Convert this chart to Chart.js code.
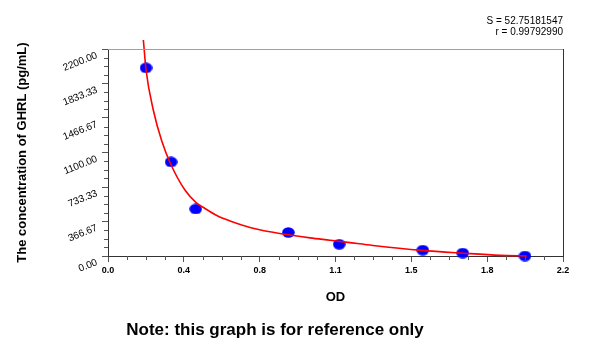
<!DOCTYPE html>
<html>
<head>
<meta charset="utf-8">
<script src="https://cdn.jsdelivr.net/npm/chart.js@4"></script>
<style>
  html, body { margin: 0; padding: 0; background: #fff; }
</style>
</head>
<body>
<canvas id="chart" width="600" height="350"></canvas>
<script>
// standards: measured OD vs known concentration
const odValues = [0.184, 0.305, 0.424, 0.872, 1.118, 1.522, 1.715, 2.016];
const concValues = [2000, 1000, 500, 250, 125, 62.5, 31.25, 0];

// fitted standard curve
const fitOd = [0.171, 0.184, 0.219, 0.260, 0.303, 0.372, 0.426, 0.469, 0.526, 0.590,
  0.687, 0.783, 0.880, 0.977, 1.073, 1.160, 1.281, 1.518, 1.717, 1.895, 2.025];
const fitConc = [2296, 1977, 1552, 1222, 978, 701, 568, 505, 430, 372,
  303, 257, 223, 193, 168, 145, 112, 60, 30, 7, 0];

const xTickValues = [0, 0.36667, 0.73333, 1.1, 1.46667, 1.83333, 2.2];
const xTickLabels = ["0.0", "0.4", "0.8", "1.1", "1.5", "1.8", "2.2"];
const yTickValues = [0, 366.67, 733.33, 1100, 1466.67, 1833.33, 2200];
const yTickLabels = ["0.00", "366.67", "733.33", "1100.00", "1466.67", "1833.33", "2200.00"];

const fitText = ["S = 52.75181547", "r = 0.99792990"];
const noteText = "Note: this graph is for reference only";

const FONT = "'Liberation Sans', Arial, sans-serif";

// blue oval marker
function ovalMarker() {
  const c = document.createElement("canvas");
  c.width = 13;
  c.height = 11;
  const g = c.getContext("2d");
  g.fillStyle = "#0000ff";
  g.beginPath();
  g.ellipse(6.5, 5.5, 6.3, 5.2, 0, 0, Math.PI * 2);
  g.fill();
  return c;
}

const frame = {
  id: "frame",
  afterDraw(chart) {
    const { ctx, chartArea: a, scales } = chart;
    ctx.save();
    // top and right edges of the plot box
    ctx.lineWidth = 1;
    ctx.strokeStyle = "#a0a0a0";
    ctx.beginPath();
    ctx.moveTo(a.left, a.top + 0.5);
    ctx.lineTo(a.right, a.top + 0.5);
    ctx.stroke();
    ctx.strokeStyle = "#333";
    ctx.beginPath();
    ctx.moveTo(a.right + 0.5, a.top);
    ctx.lineTo(a.right + 0.5, a.bottom);
    ctx.stroke();

    // minor ticks, four per major step
    ctx.strokeStyle = "#555";
    ctx.beginPath();
    for (let i = 0; i < xTickValues.length - 1; i++) {
      const step = (xTickValues[i + 1] - xTickValues[i]) / 4;
      for (let k = 1; k < 4; k++) {
        const px = Math.round(scales.x.getPixelForValue(xTickValues[i] + step * k)) + 0.5;
        ctx.moveTo(px, a.bottom);
        ctx.lineTo(px, a.bottom + 4);
      }
    }
    for (let i = 0; i < yTickValues.length - 1; i++) {
      const step = (yTickValues[i + 1] - yTickValues[i]) / 4;
      for (let k = 1; k < 4; k++) {
        const py = Math.round(scales.y.getPixelForValue(yTickValues[i] + step * k)) + 0.5;
        ctx.moveTo(a.left, py);
        ctx.lineTo(a.left - 4, py);
      }
    }
    ctx.stroke();

    // fit statistics and footnote
    ctx.fillStyle = "#000";
    ctx.font = "10px " + FONT;
    ctx.textAlign = "right";
    ctx.textBaseline = "middle";
    ctx.fillText(fitText[0], a.right, 21);
    ctx.fillText(fitText[1], a.right, 32);
    ctx.font = "bold 17px " + FONT;
    ctx.textAlign = "center";
    ctx.fillText(noteText, 275, 330);
    ctx.restore();
  }
};

new Chart(document.getElementById("chart"), {
  type: "scatter",
  data: {
    datasets: [
      {
        type: "line",
        data: fitOd.map((x, i) => ({ x, y: fitConc[i] })),
        borderColor: "#ff0000",
        borderWidth: 1.6,
        pointRadius: 0,
        cubicInterpolationMode: "monotone",
        fill: false,
        clip: false
      },
      {
        data: odValues.map((x, i) => ({ x, y: concValues[i] })),
        pointStyle: ovalMarker(),
        pointRadius: 6,
        clip: false
      }
    ]
  },
  options: {
    responsive: false,
    animation: false,
    events: [],
    layout: { padding: { left: 0, top: 49, right: 37, bottom: 0 } },
    plugins: { legend: { display: false }, tooltip: { enabled: false } },
    scales: {
      x: {
        type: "linear",
        min: 0,
        max: 2.2,
        afterBuildTicks: (s) => { s.ticks = xTickValues.map((v) => ({ value: v })); },
        afterFit: (s) => { s.height = 94; },
        ticks: {
          callback: (v, i) => xTickLabels[i],
          autoSkip: false,
          maxRotation: 0,
          padding: 3,
          color: "#000",
          font: { family: FONT, size: 9, weight: "bold" }
        },
        grid: { drawOnChartArea: false, tickLength: 6, color: "#555" },
        border: { color: "#333" },
        title: {
          display: true,
          text: "OD",
          color: "#000",
          font: { family: FONT, size: 13, weight: "bold" },
          padding: { top: 0, bottom: 45 }
        }
      },
      y: {
        type: "linear",
        min: 0,
        max: 2200,
        afterBuildTicks: (s) => { s.ticks = yTickValues.map((v) => ({ value: v })); },
        afterFit: (s) => { s.width = 108; },
        ticks: {
          callback: (v, i) => yTickLabels[i],
          autoSkip: false,
          minRotation: 22,
          maxRotation: 22,
          padding: 5,
          labelOffset: 6,
          color: "#000",
          font: { family: FONT, size: 10 }
        },
        grid: { drawOnChartArea: false, tickLength: 6, color: "#555" },
        border: { color: "#333" },
        title: {
          display: true,
          text: "The concentration of GHRL (pg/mL)",
          color: "#000",
          font: { family: FONT, size: 13, weight: "bold" },
          padding: { top: 15, bottom: 0 }
        }
      }
    }
  },
  plugins: [frame]
});
</script>
</body>
</html>
